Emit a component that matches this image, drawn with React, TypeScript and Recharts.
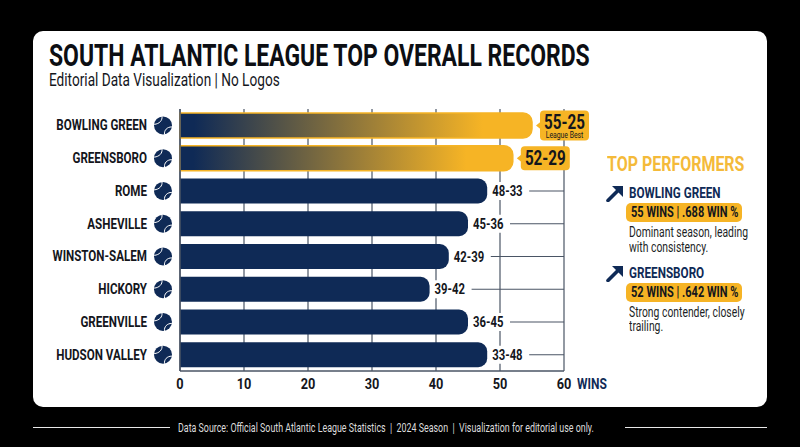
import { BarChart, Bar, XAxis, YAxis, CartesianGrid, Cell, LabelList } from 'recharts';

const teams = ['BOWLING GREEN', 'GREENSBORO', 'ROME', 'ASHEVILLE', 'WINSTON-SALEM', 'HICKORY', 'GREENVILLE', 'HUDSON VALLEY'];
// bar lengths as drawn in the picture (the last two do not follow their own records)
const wins = [55, 52, 48, 45, 42, 39, 45, 48];
const records = ['55-25', '52-29', '48-33', '45-36', '42-39', '39-42', '36-45', '33-48'];
const xTicks = [0, 10, 20, 30, 40, 50, 60];

const performers = ['BOWLING GREEN', 'GREENSBORO'];
const performerStats = ['55 WINS | .688 WIN %', '52 WINS | .642 WIN %'];
const performerNotes = [
    ['Dominant season, leading', 'with consistency.'],
    ['Strong contender, closely', 'trailing.'],
];

const chartData = teams.map((team, i) => ({ team, wins: wins[i], record: records[i] }));

const NAVY = '#0f2a56';
const GOLD = '#f6b425';
const INK = '#14161c';
const AXIS = '#4a5565';
const FONT = 'Roboto, sans-serif';

// no condensed face is installed, so Roboto gets squeezed horizontally
function SvgText({ x, y, squeeze = 0.78, children, ...rest }: any) {
    return (
        <text transform={`translate(${x},${y}) scale(${squeeze},1)`} fontFamily={FONT} fill={INK} {...rest}>
            {children}
        </text>
    );
}

function Narrow({ left, top, squeeze, style, children }: any) {
    return (
        <div
            style={{
                position: 'absolute',
                left,
                top,
                whiteSpace: 'pre',
                fontFamily: FONT,
                transform: `scaleX(${squeeze})`,
                transformOrigin: 'left center',
                ...style,
            }}
        >
            {children}
        </div>
    );
}

function TeamTick({ y, payload }: any) {
    return (
        <g>
            <SvgText x={147} y={y + 5} textAnchor="end" fontWeight={700} fontSize={14.5} squeeze={0.8}>
                {payload.value}
            </SvgText>
            <g transform={`translate(${163},${y})`}>
                <circle r={9} fill={NAVY} />
                <path d="M-1,-9 C-0.5,-5 -3.5,-1.5 -8.8,-1" stroke="#fff" strokeWidth={1} fill="none" />
                <path d="M8.8,1.5 C4,1.5 1,5 1.5,9" stroke="#fff" strokeWidth={1} fill="none" />
            </g>
        </g>
    );
}

function WinsTick({ x, payload }: any) {
    return (
        <SvgText x={x} y={389} textAnchor="middle" fontWeight={700} fontSize={15} squeeze={0.85}>
            {payload.value}
        </SvgText>
    );
}

function RecordLabel({ x, y, width, height, value, index }: any) {
    const end = x + width;
    const mid = y + height / 2;
    if (index === 0 || index === 1) {
        const boxH = index === 0 ? 30 : 24;
        const left = end + 8;
        return (
            <g>
                <path d={`M${end + 4},${mid} L${left + 1},${mid - 4} L${left + 1},${mid + 4} Z`} fill={GOLD} />
                <rect x={left} y={mid - boxH / 2} width={49} height={boxH} rx={4} fill={GOLD} />
                <SvgText x={left + 24.5} y={index === 0 ? mid + 3 : mid + 7} textAnchor="middle" fontWeight={700} fontSize={20} squeeze={0.76}>
                    {value}
                </SvgText>
                {index === 0 && (
                    <SvgText x={left + 24.5} y={mid + 12} textAnchor="middle" fontSize={9.5} squeeze={0.72}>
                        League Best
                    </SvgText>
                )}
            </g>
        );
    }
    return (
        <g>
            {/* white patch keeps the grid lines off the record text */}
            <rect x={end + 3} y={mid - 9} width={36} height={18} fill="#fff" />
            <SvgText x={end + 5} y={mid + 5} fontWeight={700} fontSize={14.5}>
                {value}
            </SvgText>
            <line x1={end + 42} x2={564} y1={mid} y2={mid} stroke={AXIS} strokeWidth={1.2} />
        </g>
    );
}

function Arrow({ top }: { top: number }) {
    return (
        <svg width={18} height={17} viewBox="0 0 18 17" style={{ position: 'absolute', left: 606, top }}>
            <path d="M2,15.5 L12,5.5" stroke={NAVY} strokeWidth={3.6} strokeLinecap="round" />
            <path d="M6,1 H17 V12 Z" fill={NAVY} />
        </svg>
    );
}

export default function App() {
    return (
        <div style={{ position: 'fixed', left: 0, top: 0, width: 800, height: 447, background: '#000', overflow: 'hidden' }}>
            <div style={{ position: 'absolute', left: 33, top: 31, width: 734, height: 376, background: '#fff', borderRadius: 10 }} />

            <Narrow left={49} top={41} squeeze={0.74} style={{ fontSize: 31, fontWeight: 700, color: '#0c0e13', lineHeight: '30px' }}>
                SOUTH ATLANTIC LEAGUE TOP OVERALL RECORDS
            </Narrow>
            <Narrow left={49} top={71} squeeze={0.757} style={{ fontSize: 18, color: INK, lineHeight: '18px' }}>
                Editorial Data Visualization | No Logos
            </Narrow>

            <div style={{ position: 'absolute', left: 0, top: 0 }}>
                <BarChart
                    width={800}
                    height={447}
                    data={chartData}
                    layout="vertical"
                    barCategoryGap={8}
                    margin={{ top: 109, right: 236, bottom: 46, left: 0 }}
                >
                    <defs>
                        <linearGradient id="goldFade" x1="0" y1="0" x2="1" y2="0">
                            <stop offset="4%" stopColor={NAVY} />
                            <stop offset="86%" stopColor={GOLD} />
                            <stop offset="100%" stopColor={GOLD} />
                        </linearGradient>
                    </defs>
                    <CartesianGrid vertical horizontal={false} stroke={AXIS} strokeWidth={1.2} />
                    <XAxis
                        type="number"
                        domain={[0, 60]}
                        ticks={xTicks}
                        height={30}
                        tickLine={false}
                        axisLine={{ stroke: AXIS, strokeWidth: 1.5 }}
                        tick={WinsTick}
                        interval={0}
                    />
                    <YAxis
                        type="category"
                        dataKey="team"
                        width={180}
                        tickLine={false}
                        axisLine={{ stroke: AXIS, strokeWidth: 1.5 }}
                        tick={TeamTick}
                        interval={0}
                    />
                    <Bar dataKey="wins" isAnimationActive={false} barSize={25} radius={[0, 9, 9, 0]}>
                        {chartData.map((d, i) => (
                            <Cell
                                key={d.team}
                                fill={i < 2 ? 'url(#goldFade)' : NAVY}
                                stroke={i < 2 ? GOLD : 'none'}
                                strokeWidth={i < 2 ? 1.5 : 0}
                            />
                        ))}
                        <LabelList dataKey="record" content={RecordLabel} />
                    </Bar>
                </BarChart>
            </div>

            <Narrow left={577} top={375} squeeze={0.8} style={{ fontSize: 15, fontWeight: 700, color: NAVY, lineHeight: '18px' }}>
                WINS
            </Narrow>

            <Narrow left={607} top={151} squeeze={0.76} style={{ fontSize: 21, fontWeight: 700, color: '#f4ba3a', lineHeight: '26px' }}>
                TOP PERFORMERS
            </Narrow>

            {performers.map((name, i) => {
                const top = i === 0 ? 184 : 263.5;
                return (
                    <div key={name}>
                        <Arrow top={top + 1} />
                        <Narrow left={629} top={top} squeeze={0.78} style={{ fontSize: 15, fontWeight: 700, color: NAVY, lineHeight: '18px' }}>
                            {name}
                        </Narrow>
                        <div style={{ position: 'absolute', left: 626, top: top + 19, width: 116, height: 19, background: GOLD, borderRadius: 5 }} />
                        <Narrow left={631} top={top + 19} squeeze={0.76} style={{ fontSize: 14.5, fontWeight: 700, color: INK, lineHeight: '19px' }}>
                            {performerStats[i]}
                        </Narrow>
                        {performerNotes[i].map((line, j) => (
                            <Narrow key={line} left={629} top={top + 41 + j * 14.5} squeeze={0.74} style={{ fontSize: 14, color: '#1c1f26', lineHeight: '14px' }}>
                                {line}
                            </Narrow>
                        ))}
                    </div>
                );
            })}

            <div style={{ position: 'absolute', left: 33, top: 427, width: 137, height: 1, background: '#e8e8e8' }} />
            <div style={{ position: 'absolute', left: 625, top: 427, width: 142, height: 1, background: '#e8e8e8' }} />
            <Narrow left={178} top={419} squeeze={0.657} style={{ fontSize: 13.5, color: '#dcdcdc', lineHeight: '16px' }}>
                {'Data Source: Official South Atlantic League Statistics  |  2024 Season  |  Visualization for editorial use only.'}
            </Narrow>
        </div>
    );
}
